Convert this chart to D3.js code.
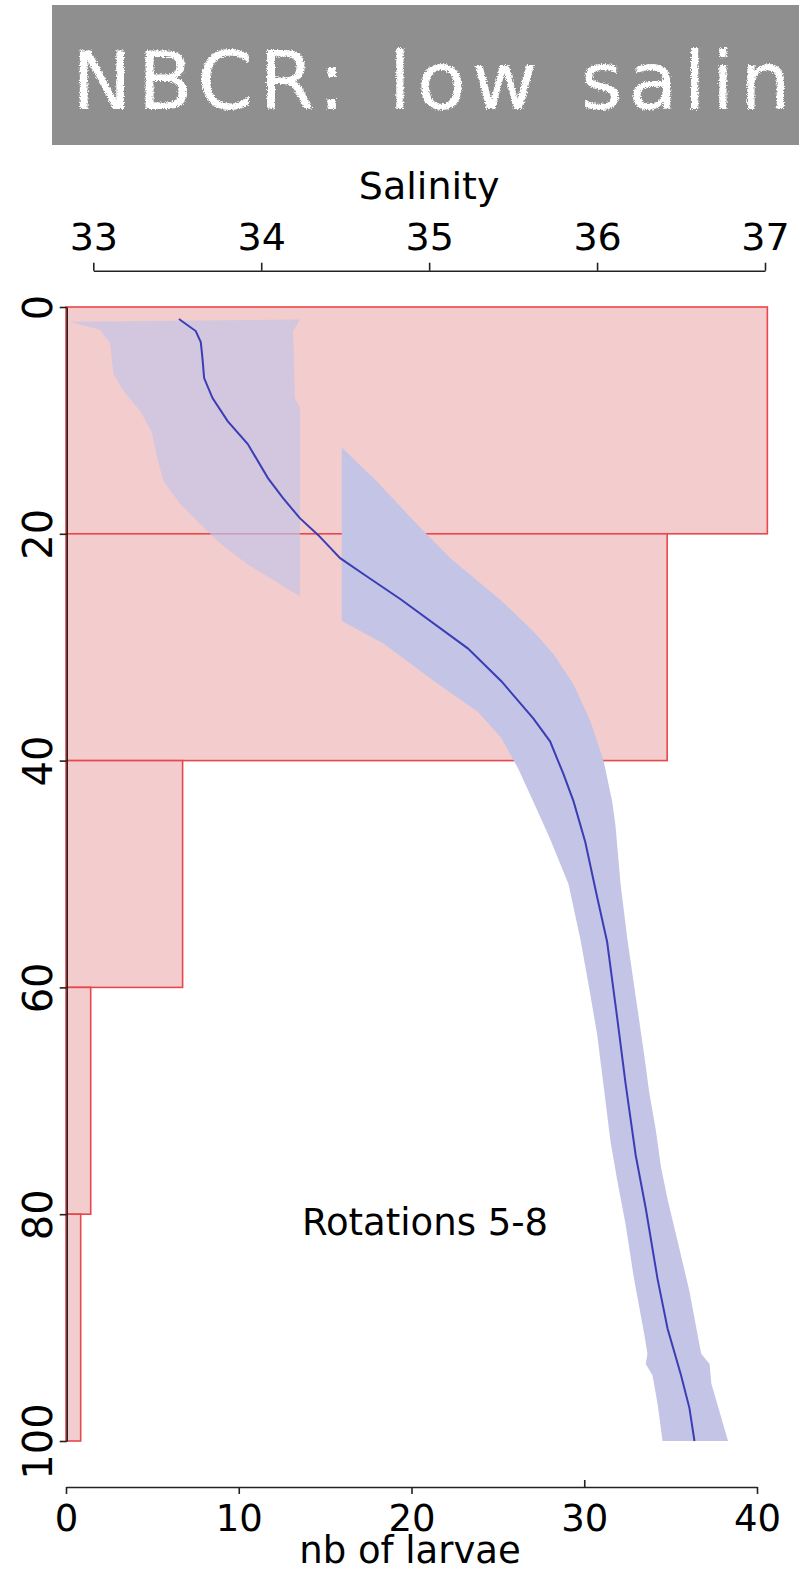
<!DOCTYPE html>
<html><head><meta charset="utf-8">
<script src="https://cdn.jsdelivr.net/npm/d3@7"></script>
<style>body{margin:0;background:#fff}svg{display:block}</style>
</head><body>
<svg id="chart" width="799" height="1571"></svg>
<script>
// ---------- data ----------
const titleText = "NBCR: low salinity";
const annotation = "Rotations 5-8";
const depthBinStart = [0, 20, 40, 60, 80];
const depthBinEnd = [20, 40, 60, 80, 100];
const larvaeCounts = [40.6, 34.8, 6.75, 1.43, 0.85];
const salinityTicks = [33, 34, 35, 36, 37];
const larvaeTicks = [0, 10, 20, 30, 40];
const depthTicks = [0, 20, 40, 60, 80, 100];
// mean salinity profile: [depth, salinity]
const meanProfile = [
  [1.06,33.51],[2.12,33.61],[3.09,33.64],[4.5,33.65],[6.27,33.66],[8.03,33.71],
  [10.06,33.80],[12.09,33.92],[15.09,34.04],[16.86,34.13],[18.62,34.23],[20.12,34.34],
  [22.15,34.47],[23.57,34.61],[25.77,34.83],[30.1,35.23],[33.0,35.43],[36.27,35.62],
  [38.3,35.72],[41.2,35.80],[43.6,35.86],[47.2,35.93],[52.0,36.00],[56.0,36.06],
  [62.7,36.12],[68.5,36.17],[74.8,36.23],[79.5,36.29],[85.7,36.36],[90.1,36.42],
  [94.2,36.50],[97.1,36.55],[100,36.58]
];
// shallow envelope: left and right edges [depth, salinity]
const shallowLeft = [
  [1.3,32.86],[2.0,33.04],[3.2,33.10],[5.9,33.12],[7.4,33.18],[9.2,33.28],[11.1,33.35],
  [13.3,33.38],[15.4,33.42],[17.4,33.52],[19.2,33.64],[20.9,33.76],[22.7,33.92],[25.5,34.23]
];
const shallowRight = [[1.1,34.23],[2.1,34.19],[8.0,34.20],[8.9,34.23],[25.5,34.23]];
// deep envelope: left and right edges [depth, salinity]
const deepLeft = [
  [12.4,34.48],[27.7,34.48],[29.7,34.73],[33.0,35.03],[35.7,35.29],[38.0,35.43],[40.7,35.53],
  [43.6,35.62],[46.9,35.72],[50.9,35.83],[55.7,35.90],[59.8,35.95],[64.1,36.00],[68.8,36.04],
  [73.6,36.08],[77.0,36.12],[80.9,36.17],[85.7,36.22],[90.5,36.28],[92.3,36.30],[93.2,36.29],
  [94.2,36.33],[96.7,36.36],[100,36.39]
];
const deepRight = [
  [12.4,34.48],[15.4,34.69],[19.2,34.93],[22.2,35.13],[25.9,35.43],[28.6,35.62],[30.6,35.74],
  [33.3,35.86],[36.5,35.96],[40.1,36.04],[43.6,36.09],[45.8,36.11],[50.9,36.14],[55.7,36.18],
  [60.8,36.23],[65.9,36.28],[69.2,36.31],[72.6,36.35],[75.8,36.38],[78.7,36.42],[82.4,36.48],
  [86.8,36.55],[92.3,36.62],[93.2,36.67],[94.9,36.68],[100,36.78]
];

// ---------- layout ----------
const svg = d3.select("#chart");
const FONT = "'DejaVu Sans', sans-serif";
const xL = d3.scaleLinear().domain([0, 40]).range([66, 757]);
const xS = d3.scaleLinear().domain([33, 37]).range([93.3, 765]);
const yD = d3.scaleLinear().domain([0, 100]).range([307, 1441]);

// title banner
const defs = svg.append("defs");
const f = defs.append("filter").attr("id", "chalk").attr("x", "-5%").attr("y", "-20%").attr("width", "110%").attr("height", "140%");
f.append("feTurbulence").attr("type", "fractalNoise").attr("baseFrequency", 0.8).attr("numOctaves", 2).attr("result", "n");
f.append("feDisplacementMap").attr("in", "SourceGraphic").attr("in2", "n").attr("scale", 5)
  .attr("xChannelSelector", "R").attr("yChannelSelector", "G");
svg.append("rect").attr("x", 52).attr("y", 5).attr("width", 760).attr("height", 140).attr("fill", "#8f8f8f");
svg.append("text").attr("x", 72).attr("y", 109).attr("fill", "#fff")
  .attr("font-family", FONT).attr("font-size", 80).attr("letter-spacing", 6).attr("word-spacing", 6)
  .attr("filter", "url(#chalk)").text(titleText);

// bars
svg.append("g").selectAll("rect").data(larvaeCounts).join("rect")
  .attr("x", xL(0))
  .attr("y", (d, i) => yD(depthBinStart[i]))
  .attr("width", d => xL(d) - xL(0))
  .attr("height", (d, i) => yD(depthBinEnd[i]) - yD(depthBinStart[i]))
  .attr("fill", "#f3cccd").attr("stroke", "#e8474b").attr("stroke-width", 1.6);

// envelopes
const edge = d3.line().x(d => xS(d[1])).y(d => yD(d[0]));
svg.append("path").attr("d", edge(shallowLeft.concat(shallowRight.slice().reverse())) + "Z")
  .attr("fill", "#c3c4e6").attr("fill-opacity", 0.7);
svg.append("path").attr("d", edge(deepLeft.concat(deepRight.slice().reverse())) + "Z")
  .attr("fill", "#c3c4e6");

// mean line
svg.append("path").attr("d", edge(meanProfile)).attr("fill", "none")
  .attr("stroke", "#3a3db4").attr("stroke-width", 2);

// axes
function styleAxis(g, fs) {
  g.select(".domain").attr("stroke", "#222").attr("stroke-width", 1.6);
  g.selectAll(".tick line").attr("stroke", "#222").attr("stroke-width", 1.6);
  g.selectAll(".tick text").attr("font-family", FONT).attr("font-size", fs).attr("fill", "#000");
}
const gTop = svg.append("g").attr("transform", "translate(0,270.7)")
  .call(d3.axisTop(xS).tickValues(salinityTicks).tickSize(8).tickSizeOuter(0).tickPadding(13).tickFormat(d3.format("d")));
styleAxis(gTop, 38);

const gBot = svg.append("g").attr("transform", "translate(0,1487)")
  .call(d3.axisBottom(xL).tickValues(larvaeTicks).tickSize(7).tickSizeOuter(0).tickPadding(11).tickFormat(d3.format("d")));
styleAxis(gBot, 37);
gBot.selectAll(".tick").filter(d => d === 30).select("line").attr("y2", -7);

const gLeft = svg.append("g").attr("transform", "translate(66.7,0)")
  .call(d3.axisLeft(yD).tickValues(depthTicks).tickSize(7).tickSizeOuter(0).tickFormat(d3.format("d")));
styleAxis(gLeft, 40);
gLeft.selectAll(".tick text")
  .attr("x", null).attr("dy", "0.36em").attr("text-anchor", "middle")
  .attr("transform", "translate(-28.7,0) rotate(-90)");

// axis titles
svg.append("text").attr("x", xS(35)).attr("y", 199).attr("text-anchor", "middle")
  .attr("font-family", FONT).attr("font-size", 38).text("Salinity");
svg.append("text").attr("x", 410).attr("y", 1563).attr("text-anchor", "middle")
  .attr("font-family", FONT).attr("font-size", 37).text("nb of larvae");
svg.append("text").attr("x", 425).attr("y", 1235).attr("text-anchor", "middle")
  .attr("font-family", FONT).attr("font-size", 37).text(annotation);
</script>
</body></html>
